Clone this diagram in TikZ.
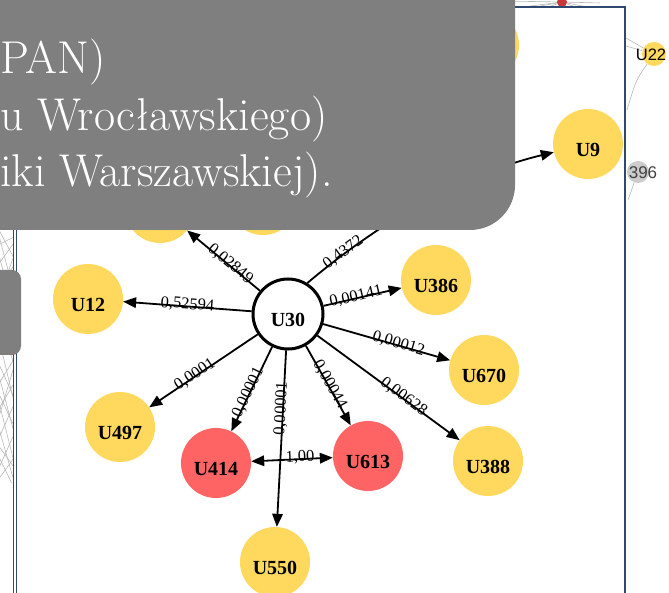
\documentclass[tikz,border=0pt]{standalone}
\usepackage{fontspec}
\usetikzlibrary{arrows.meta}
\newfontfamily\nodefont{Liberation Serif}
\newfontfamily\netsans{Liberation Sans}
\definecolor{nodeyellow}{HTML}{FFD85E}
\definecolor{nodered}{HTML}{FF6464}
\definecolor{frameblue}{HTML}{2F4A6E}
\definecolor{panelgray}{HTML}{7F7F7F}
\definecolor{netgray}{HTML}{B8B8B8}
\definecolor{dotred}{HTML}{C8383A}

\tikzset{
  vnode/.style={circle, minimum size=70pt, inner sep=0pt, draw=none},
  ynode/.style={vnode, fill=nodeyellow},
  rnode/.style={vnode, fill=nodered},
  hub/.style={circle, minimum size=70pt, inner sep=0pt, draw=black, line width=3pt, fill=white},
  ulab/.style={font=\nodefont\bfseries\fontsize{20}{20}\selectfont, yshift=-6pt, inner sep=0pt},
  tip/.tip={Triangle[length=13pt,width=10.5pt]},
  edge/.style={line width=1.8pt, -tip},
  bidir/.style={line width=1.8pt, tip-tip},
  elab/.style={font=\nodefont\fontsize{16.5}{16.5}\selectfont, sloped, inner sep=0pt, above=-6pt},
  netline/.style={netgray, line width=0.6pt},
  ovltext/.style={white, font=\fontsize{46}{52}\selectfont, inner sep=0pt, anchor=base west},
}

\begin{document}
\begin{tikzpicture}[x=1pt, y=-1pt]
\useasboundingbox (0,0) rectangle (669,593);
\clip (0,0) rectangle (669,593);
\fill[white] (0,0) rectangle (669,593);

% network fragments outside the frame, left strip
\begin{scope}
  \clip (0,228) rectangle (13.5,482);
  \foreach \a/\b in {228/262, 232/300, 245/236, 252/318, 265/240, 276/350,
                     290/262, 300/338, 310/372, 322/296, 335/410, 350/318,
                     362/402, 372/440, 385/356, 398/470, 410/380, 425/488,
                     440/400, 455/492, 470/430, 480/455, 300/250, 340/300,
                     420/360, 445/470, 392/430}
    \draw[netline] (-2,\a) -- (16,\b);
\end{scope}

% network fragments above the frame
\begin{scope}
  \clip (495,0) rectangle (600,7);
  \coordinate (topdot) at (562,2);
  \foreach \p in {(515,8), (530,8), (546,8), (578,8), (592,8), (600,3), (500,1)}
    \draw[netline] (topdot) -- \p;
  \fill[dotred] (topdot) circle (5pt);
\end{scope}

% network fragments right of the frame
\node[circle, minimum size=24pt, inner sep=0pt, fill=nodeyellow] (U22) at (654,54) {};
\node[circle, minimum size=22pt, inner sep=0pt, fill=black!20] (n396) at (638,172) {};
\coordinate (r1) at (626,38);
\coordinate (r2) at (626,46);
\coordinate (r3) at (627,110);
\coordinate (r4) at (628,200);
\draw[netline] (r1) -- (U22);
\draw[netline] (r2) -- (U22);
\draw[netline] (U22) .. controls (636,80) .. (r3);
\draw[netline] (n396) -- (r4);
\node[font=\netsans\fontsize{16.5}{16.5}\selectfont, inner sep=0pt] (t22) at (651,55) {U22};
\node[font=\netsans\fontsize{17}{17}\selectfont, text=black!75, inner sep=0pt] (t396) at (643,173) {396};

% the framed view
\draw[frameblue, line width=2.5pt] (625,620) -- (625,7) -- (14,7);
\draw[frameblue, line width=1.2pt] (13.5,7) -- (13.5,620);
\draw[frameblue, line width=1.2pt] (16.5,7) -- (16.5,620);

% nodes
\node[ynode] (TL) at (160,208) {};
\node[ynode] (TM) at (263,200) {};
\node[ynode] (TR) at (484,45) {};
\node[hub, label={[ulab]center:U30}] (U30) at (288,314) {};
\node[ynode, label={[ulab]center:U12}] (U12) at (88,299) {};
\node[ynode, label={[ulab]center:U497}] (U497) at (120,427) {};
\node[rnode, label={[ulab]center:U414}] (U414) at (216,463) {};
\node[ynode, label={[ulab]center:U550}] (U550) at (275,562) {};
\node[rnode, label={[ulab]center:U613}] (U613) at (368,456) {};
\node[ynode, label={[ulab]center:U388}] (U388) at (488,461) {};
\node[ynode, label={[ulab]center:U670}] (U670) at (484,370) {};
\node[ynode, label={[ulab]center:U386}] (U386) at (436,280) {};
\node[ynode, label={[ulab]center:U9}] (U9) at (588,144) {};

% weighted edges out of U30
\draw[edge] (U30) -- node[elab, pos=0.42] {0,02849} (TL);
\draw[edge] (U30) -- node[elab, pos=0.5] {0,52594} (U12);
\draw[edge] (U30) -- node[elab, pos=0.57] {0,0001} (U497);
\draw[edge] (U30) -- node[elab, pos=0.55] {0,00001} (U414);
\draw[edge] (U30) -- node[elab, pos=0.33] {0,00001} (U550);
\draw[edge] (U30) -- node[elab, pos=0.5] {0,00044} (U613);
\draw[edge] (U30) -- node[elab, pos=0.6] {0,00628} (U388);
\draw[edge] (U30) -- node[elab, pos=0.59] {0,00012} (U670);
\draw[edge] (U30) -- node[elab, pos=0.42] {0,00141} (U386);
\draw[edge] (U30.58) .. controls (389,214) and (472,172) .. node[elab, pos=0.15] {0,4372} (U9);
\draw[bidir] (U414) -- node[elab, pos=0.6] {1,00} (U613);

% slide panels on top
\fill[panelgray, rounded corners=45pt] (-100,-100) rectangle (515,230);
\fill[panelgray, rounded corners=9pt] (-30,270) rectangle (21,355);
\node[ovltext] (line1) at (0,74) {PAN)};
\node[ovltext] (line2) at (0,131) {u Wrocławskiego)};
\node[ovltext] (line3) at (0,187) {iki Warszawskiej).};
\end{tikzpicture}
\end{document}
